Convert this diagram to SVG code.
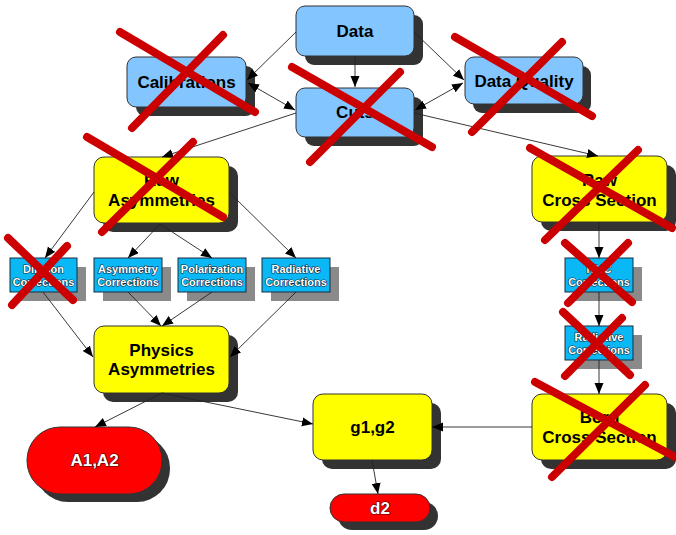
<svg xmlns="http://www.w3.org/2000/svg" width="676" height="535" viewBox="0 0 676 535">
<defs>
<marker id="ah" markerUnits="userSpaceOnUse" markerWidth="12" markerHeight="10" refX="11" refY="4.5" orient="auto-start-reverse">
<path d="M0,0 L11,4.5 L0,9 z" fill="#000"/>
</marker>
<style>
.bg{fill:#fff}
.sh{fill:#333}
.shs{fill:#8a8a8a}
.blue{fill:#82c5ff;stroke:#333;stroke-width:1}
.yel{fill:#ffff00;stroke:#333;stroke-width:1}
.cyan{fill:#0ab8f5;stroke:#1a2a3a;stroke-width:1}
.red{fill:#ff0000;stroke:#333;stroke-width:1}
.t{font-family:"Liberation Sans",Arial,sans-serif;font-weight:bold;font-size:17px;fill:#000;text-anchor:middle;dominant-baseline:central}
.ts{font-family:"Liberation Sans",Arial,sans-serif;font-weight:bold;font-size:11px;fill:#fff;stroke:#0a2a40;stroke-width:1.2;paint-order:stroke;text-anchor:middle;dominant-baseline:central}
.tr{font-family:"Liberation Sans",Arial,sans-serif;font-weight:bold;font-size:17px;fill:#fff;stroke:#400;stroke-width:1.2;paint-order:stroke;text-anchor:middle;dominant-baseline:central}
.c line,.c path{stroke:#222;stroke-width:0.9;fill:none}
.a{marker-end:url(#ah)}
.b{marker-start:url(#ah);marker-end:url(#ah)}
.x line{stroke:#cc0000;stroke-width:8;stroke-linecap:round}
</style>
</defs>
<rect class="bg" width="676" height="535"/>

<g id="data">
<rect class="sh" x="305" y="15" width="118" height="50" rx="9"/>
<rect class="blue" x="296" y="6" width="118" height="50" rx="9"/>
<text class="t" x="355" y="31">Data</text>
</g>
<g id="calibrations">
<rect class="sh" x="136" y="66" width="119" height="50" rx="9"/>
<rect class="blue" x="127" y="57" width="119" height="50" rx="9"/>
<text class="t" x="186.5" y="82">Calibrations</text>
</g>
<g id="dataquality">
<rect class="sh" x="473" y="66" width="118" height="47" rx="9"/>
<rect class="blue" x="465" y="57" width="118" height="47" rx="9"/>
<text class="t" x="524" y="81">Data Quality</text>
</g>
<g id="cuts">
<rect class="sh" x="305" y="97" width="118" height="49" rx="9"/>
<rect class="blue" x="296" y="88" width="118" height="49" rx="9"/>
<text class="t" x="355" y="112">Cuts</text>
</g>
<g id="rawasym">
<rect class="sh" x="103" y="166" width="135" height="66" rx="10"/>
<rect class="yel" x="94" y="157" width="135" height="66" rx="10"/>
<text class="t" x="161.5" y="180">Raw</text>
<text class="t" x="161.5" y="200">Asymmetries</text>
</g>
<g id="rawxs">
<rect class="sh" x="541" y="165" width="135" height="66" rx="10"/>
<rect class="yel" x="532" y="156" width="135" height="66" rx="10"/>
<text class="t" x="599.5" y="180">Raw</text>
<text class="t" x="599.5" y="200">Cross Section</text>
</g>
<g id="dilution">
<rect class="shs" x="19" y="267" width="67" height="34"/>
<rect class="cyan" x="10" y="258" width="67" height="34"/>
<text class="ts" x="43.5" y="269">Dilution</text>
<text class="ts" x="43.5" y="282">Corrections</text>
</g>
<g id="asymcorr">
<rect class="shs" x="103" y="267" width="68" height="34"/>
<rect class="cyan" x="94" y="258" width="68" height="34"/>
<text class="ts" x="128" y="269">Asymmetry</text>
<text class="ts" x="128" y="282">Corrections</text>
</g>
<g id="polcorr">
<rect class="shs" x="187" y="267" width="68" height="34"/>
<rect class="cyan" x="178" y="258" width="68" height="34"/>
<text class="ts" x="212" y="269">Polarization</text>
<text class="ts" x="212" y="282">Corrections</text>
</g>
<g id="radcorr">
<rect class="shs" x="271" y="267" width="68" height="34"/>
<rect class="cyan" x="262" y="258" width="68" height="34"/>
<text class="ts" x="296" y="269">Radiative</text>
<text class="ts" x="296" y="282">Corrections</text>
</g>
<g id="nmc">
<rect class="shs" x="574" y="267" width="68" height="34"/>
<rect class="cyan" x="565" y="258" width="68" height="34"/>
<text class="ts" x="599" y="269">NMC</text>
<text class="ts" x="599" y="282">Corrections</text>
</g>
<g id="radcorr2">
<rect class="shs" x="574" y="335" width="68" height="34"/>
<rect class="cyan" x="565" y="326" width="68" height="34"/>
<text class="ts" x="599" y="337">Radiative</text>
<text class="ts" x="599" y="350">Corrections</text>
</g>
<g id="physasym">
<rect class="sh" x="103" y="335" width="135" height="67" rx="10"/>
<rect class="yel" x="94" y="326" width="135" height="67" rx="10"/>
<text class="t" x="161.5" y="350">Physics</text>
<text class="t" x="161.5" y="369">Asymmetries</text>
</g>
<g id="born">
<rect class="sh" x="541" y="403" width="135" height="66" rx="10"/>
<rect class="yel" x="532" y="394" width="135" height="66" rx="10"/>
<text class="t" x="599.5" y="417">Born</text>
<text class="t" x="599.5" y="437">Cross Section</text>
</g>
<g id="g1g2">
<rect class="sh" x="322" y="403" width="119" height="66" rx="10"/>
<rect class="yel" x="313" y="394" width="119" height="66" rx="10"/>
<text class="t" x="372.5" y="427">g1,g2</text>
</g>
<g id="a1a2">
<rect class="sh" x="35" y="435" width="135" height="67" rx="33"/>
<rect class="red" x="27" y="427" width="135" height="67" rx="33"/>
<text class="tr" x="94.5" y="460">A1,A2</text>
</g>
<g id="d2">
<rect class="sh" x="338" y="502" width="100" height="28" rx="14"/>
<rect class="red" x="330" y="494" width="100" height="28" rx="14"/>
<text class="tr" x="380" y="508">d2</text>
</g>

<g id="connectors" class="c">
<line class="a" x1="296" y1="32" x2="247" y2="80"/>
<line class="a" x1="414" y1="32" x2="464" y2="80"/>
<line class="a" x1="355" y1="57" x2="355" y2="87"/>
<line class="b" x1="248" y1="83" x2="295" y2="110"/>
<line class="b" x1="463" y1="83" x2="415" y2="110"/>
<line class="a" x1="296" y1="113" x2="162" y2="157"/>
<line class="a" x1="414" y1="113" x2="598" y2="156"/>
<line class="a" x1="94" y1="192" x2="45" y2="258"/>
<line class="a" x1="160" y1="224" x2="128" y2="258"/>
<line class="a" x1="160" y1="224" x2="212" y2="258"/>
<line class="a" x1="229" y1="192" x2="296" y2="258"/>
<line class="a" x1="43" y1="292" x2="93" y2="357"/>
<line class="a" x1="128" y1="292" x2="161" y2="326"/>
<line class="a" x1="212" y1="292" x2="162" y2="326"/>
<line class="a" x1="296" y1="292" x2="230" y2="357"/>
<line class="a" x1="162" y1="393" x2="95" y2="427"/>
<line class="a" x1="162" y1="393" x2="313" y2="424"/>
<line class="a" x1="532" y1="427" x2="432" y2="427"/>
<line class="a" x1="372" y1="460" x2="378" y2="494"/>
<line class="a" x1="599" y1="222" x2="599" y2="258"/>
<line class="a" x1="599" y1="292" x2="599" y2="326"/>
<line class="a" x1="599" y1="360" x2="599" y2="394"/>
</g>

<g id="crosses" class="x">
<line x1="120" y1="32" x2="255" y2="112"/>
<line x1="223" y1="35" x2="132" y2="128"/>
<line x1="455" y1="37" x2="592" y2="116"/>
<line x1="562" y1="42" x2="472" y2="132"/>
<line x1="292" y1="67" x2="432" y2="147"/>
<line x1="400" y1="72" x2="310" y2="162"/>
<line x1="87" y1="137" x2="223" y2="217"/>
<line x1="193" y1="142" x2="102" y2="232"/>
<line x1="530" y1="148" x2="672" y2="228"/>
<line x1="638" y1="150" x2="545" y2="240"/>
<line x1="8" y1="238" x2="73" y2="300"/>
<line x1="67" y1="246" x2="12" y2="305"/>
<line x1="565" y1="243" x2="632" y2="302"/>
<line x1="628" y1="243" x2="568" y2="303"/>
<line x1="563" y1="312" x2="630" y2="375"/>
<line x1="622" y1="318" x2="565" y2="376"/>
<line x1="535" y1="382" x2="675" y2="457"/>
<line x1="645" y1="385" x2="552" y2="477"/>
</g>
</svg>
